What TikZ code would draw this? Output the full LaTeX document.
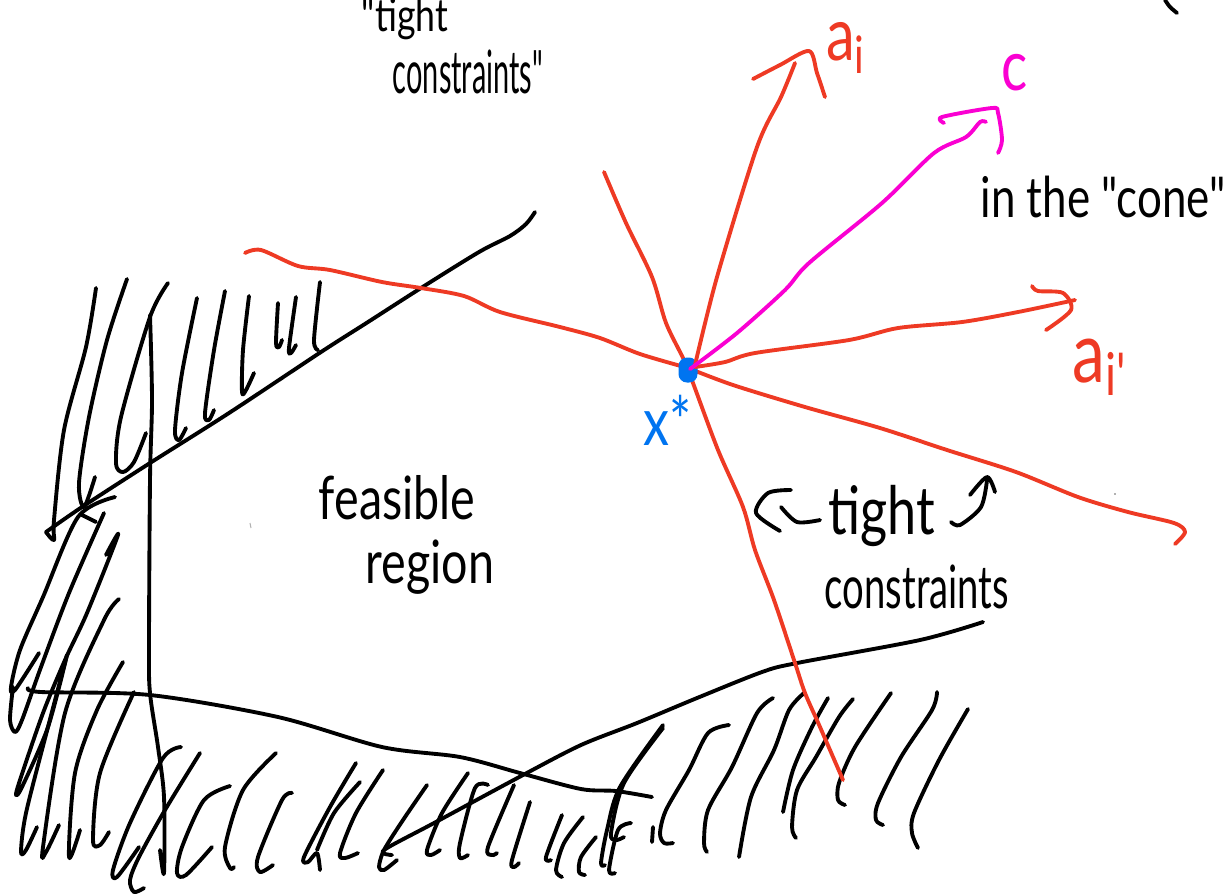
\documentclass[tikz,border=0pt]{standalone}
\usepackage{fontspec}
\setmainfont[Ligatures=TeXOff]{Lato}
\usepackage{tikz}

\definecolor{pen}{RGB}{0,0,0}
\definecolor{penred}{RGB}{238,58,36}
\definecolor{penpink}{RGB}{250,0,210}
\definecolor{penblue}{RGB}{0,116,240}

\begin{document}
\begin{tikzpicture}[
  x=0.01cm, y=-0.01cm,
  ink/.style={draw=pen, line width=1.1pt, line cap=round, line join=round},
  redink/.style={draw=penred, line width=1.1pt, line cap=round, line join=round},
  pinkink/.style={draw=penpink, line width=1.1pt, line cap=round, line join=round},
  scribble/.style={font=\fontsize{#1}{#1}\selectfont, xscale=0.78, transform shape, inner sep=0pt},
  scribble/.default=15
]
  \useasboundingbox (0,0) rectangle (1228,893);

  % optimum and tips
  \coordinate (aitip) at (809,51);
  \coordinate (ctip) at (992,108);
  \coordinate (aiptip) at (1075,300);
  \coordinate (leftend) at (245,253);
  \coordinate (rightend) at (1175,544);
  \coordinate (topend) at (604,172);
  \coordinate (lowend) at (843,780);

  % feasible region boundary
  \draw[ink] plot[smooth] coordinates {(46,532) (82,507) (150,463) (229,413) (321,352) (368,322) (421,288) (479,252) (510,236) (526,224) (535,212)};
  \draw[ink] plot[smooth] coordinates {(150,315) (152,400) (150,480) (149,647) (150,693) (158,747) (164,797) (164,873) (160,850)};
  \draw[ink] plot[smooth] coordinates {(28,688) (41,692) (150,695) (278,717) (382,747) (460,757) (520,773) (581,789) (616,791) (652,797)};
  \draw[ink] plot[smooth] coordinates {(392,855) (384,850) (434,823) (523,775) (581,745) (637,723) (697,698) (762,672) (797,663) (920,640) (983,622)};

  % hatching, upper left
  \draw[ink] plot[smooth] coordinates {(96,288) (86,347) (64,430) (54,520) (54,540) (46,532)};
  \draw[ink] plot[smooth] coordinates {(127,279) (107,340) (89,417) (79,483) (84,507) (95,477)};
  \draw[ink] plot[smooth] coordinates {(168,283) (150,317) (121,417) (116,463) (123,472) (134,462) (146,433)};
  \draw[ink] plot[smooth] coordinates {(197,298) (182,373) (175,430) (179,440) (186,428)};
  \draw[ink] plot[smooth] coordinates {(225,291) (214,350) (205,413) (209,420) (214,410)};
  \draw[ink] plot[smooth] coordinates {(249,296) (243,350) (242,392) (246,390) (254,373)};
  \draw[ink] plot[smooth] coordinates {(278,303) (276,343) (279,347) (282,340)};
  \draw[ink] plot[smooth] coordinates {(296,297) (289,348) (291,353) (296,345)};
  \draw[ink] plot[smooth] coordinates {(320,282) (314,340) (318,350)};
  \draw[ink] (82,515) -- (96,522);

  % hatching, lower left
  \draw[ink] plot[smooth] coordinates {(115,497) (78,517) (43,597) (20,650) (11,687) (15,690) (39,653)};
  \draw[ink] plot[smooth] coordinates {(104,513) (69,593) (41,667) (22,720) (15,732) (10,720) (13,687)};
  \draw[ink] plot[smooth] coordinates {(106,555) (118,535) (87,613) (65,660) (43,713) (20,780) (16,795) (22,787) (48,727) (67,655)};
  \draw[ink] plot[smooth] coordinates {(67,655) (48,727) (26,813) (21,852) (26,850) (37,827)};
  \draw[ink] plot[smooth] coordinates {(119,599) (104,620) (65,713) (43,847) (46,852) (59,825)};
  \draw[ink] plot[smooth] coordinates {(123,662) (97,710) (75,773) (69,857) (80,830)};
  \draw[ink] plot[smooth] coordinates {(134,692) (100,773) (93,840) (100,845) (109,832)};

  % hatching, bottom
  \draw[ink] plot[smooth] coordinates {(181,747) (163,758) (130,823) (113,870) (117,877) (139,847)};
  \draw[ink] plot[smooth] coordinates {(200,753) (165,810) (139,857) (130,880) (134,892) (144,888)};
  \draw[ink] plot[smooth] coordinates {(230,786) (204,800) (182,847) (177,873) (186,875) (212,847)};
  \draw[ink] plot[smooth] coordinates {(276,753) (243,790) (225,847) (230,868) (234,867)};
  \draw[ink] plot[smooth] coordinates {(292,793) (282,800) (258,857) (260,872) (273,865)};
  \draw[ink] plot[smooth] coordinates {(356,763) (330,807) (304,857) (308,862) (317,853) (320,870)};
  \draw[ink] plot[smooth] coordinates {(360,782) (334,813) (317,850)};
  \draw[ink] plot[smooth] coordinates {(383,770) (356,813) (340,853) (345,858) (358,853)};
  \draw[ink] plot[smooth] coordinates {(427,785) (403,820) (384,850) (379,867) (384,870) (397,860)};
  \draw[ink] plot[smooth] coordinates {(468,773) (442,813) (427,850) (431,855) (440,850)};
  \draw[ink] plot[smooth] coordinates {(488,785) (475,788) (460,843) (460,858) (468,855)};
  \draw[ink] plot[smooth] coordinates {(514,785) (488,847) (492,855) (497,853)};
  \draw[ink] plot[smooth] coordinates {(530,802) (512,860) (514,867) (519,863)};
  \draw[ink] plot[smooth] coordinates {(562,815) (546,857) (551,860)};
  \draw[ink] plot[smooth] coordinates {(583,817) (564,843) (556,870) (562,877)};
  \draw[ink] plot[smooth] coordinates {(596,837) (581,857) (579,872) (585,875)};
  \draw[ink] plot[smooth] coordinates {(663,725) (620,787) (607,830) (601,863) (605,865)};
  \draw[ink] plot[smooth] coordinates {(663,728) (624,783) (611,833) (616,840) (624,837)};
  \draw[ink] plot[smooth] coordinates {(631,823) (618,830) (609,870) (615,873)};

  % hatching, bottom right
  \draw[ink] plot[smooth] coordinates {(653,827) (652,842)};
  \draw[ink] plot[smooth] coordinates {(729,725) (708,733) (689,770) (666,810) (660,833) (664,843) (673,843)};
  \draw[ink] plot[smooth] coordinates {(773,698) (757,713) (732,767) (708,810) (704,843) (707,852)};
  \draw[ink] plot[smooth] coordinates {(804,693) (789,710) (774,750) (751,797) (739,857)};
  \draw[ink] plot[smooth] coordinates {(828,698) (812,727) (793,770) (783,812)};
  \draw[ink] plot[smooth] coordinates {(853,699) (839,717) (816,757) (797,790) (792,827) (796,838)};
  \draw[ink] plot[smooth] coordinates {(891,693) (855,747) (839,783) (838,800) (845,805)};
  \draw[ink] plot[smooth] coordinates {(937,692) (932,710) (901,757) (878,803) (876,820) (883,825)};
  \draw[ink] plot[smooth] coordinates {(968,709) (939,760) (914,813) (912,833) (918,848)};

  % stray marks
  \draw[ink] plot[smooth] coordinates {(1165,0) (1170,7) (1177,13)};
  \draw[gray!60, line width=0.3pt] (250,523) -- (251,528);
  \draw[gray!60, line width=0.3pt] (1114,494) -- (1116,494);

  % tight constraints
  \coordinate (xmid) at (688,368);
  \draw[redink] plot[smooth] coordinates {(leftend) (261,250) (298,266) (330,270) (382,282) (421,288) (464,296) (500,312) (560,327) (600,338) (640,354) (xmid)};
  \draw[redink] plot[smooth] coordinates {(xmid) (733,385) (805,407) (880,428) (947,450) (1016,472) (1078,497) (1128,512) (1174,523) (1185,532) (rightend)};
  \draw[redink] plot[smooth] coordinates {(topend) (626,223) (652,277) (666,323) (684,360) (693,383) (718,450) (743,507) (755,550) (774,600) (795,663) (805,693) (820,727) (lowend)};

  \node[rectangle, rounded corners=2.4pt, fill=penblue, minimum width=0.19cm, minimum height=0.25cm, inner sep=0pt] (xstar) at (688,370) {};

  % normals
  \draw[redink] plot[smooth] coordinates {(695,365) (717,277) (757,147) (781,97) (795,63)};
  \draw[redink] plot[smooth] coordinates {(753,79) (780,65) (aitip) (817,73) (825,97)};
  \draw[redink] plot[smooth] coordinates {(695,367) (725,362) (755,353) (849,340) (898,328) (962,322) (1018,312) (aiptip)};
  \draw[redink] plot[smooth] coordinates {(1032,286) (1038,291) (1063,293) (1071,310) (1046,330)};
  \draw[pinkink] plot[smooth] coordinates {(690,369) (737,333) (785,290) (809,263) (882,203) (934,153) (966,137) (980,122) (986,122)};
  \draw[pinkink] plot[smooth] coordinates {(944,123) (942,117) (ctip) (998,113) (1002,140) (998,153)};

  % curly arrows
  \draw[ink] plot[smooth] coordinates {(791,490) (768,493) (756,513) (780,531)};
  \draw[ink] plot[smooth] coordinates {(781,507) (797,522) (820,520)};
  \draw[ink] plot[smooth] coordinates {(951,522) (960,525) (981,507) (987,480)};
  \draw[ink] plot[smooth] coordinates {(970,495) (987,477) (995,492)};

  % labels
  \node[scribble=21, text=penred] (ailabel) at (846,48) {a\textsubscript{i}};
  \node[scribble=20, text=penpink] (clabel) at (1015,73) {c};
  \node[scribble=24, text=penred] (aiplabel) at (1100,367) {a\textsubscript{i'}};
  \node[scribble=19, text=penblue] (xlabel) at (668,420) {x*};
  \node[scribble=16] (conelabel) at (1103,197) {in the "cone"};
  \node[scribble=17] (feaslabel) at (397,498) {feasible};
  \node[scribble=17] (reglabel) at (430,567) {region};
  \node[scribble=19] (tightlabel) at (882,516) {tight};
  \node[scribble=17, xscale=0.82] (conslabel) at (917,587) {constraints};
  \node[scribble=13] (tighttop) at (405,19) {"tight};
  \node[scribble=17, xscale=0.62] (constop) at (468,72) {constraints"};
\end{tikzpicture}
\end{document}
